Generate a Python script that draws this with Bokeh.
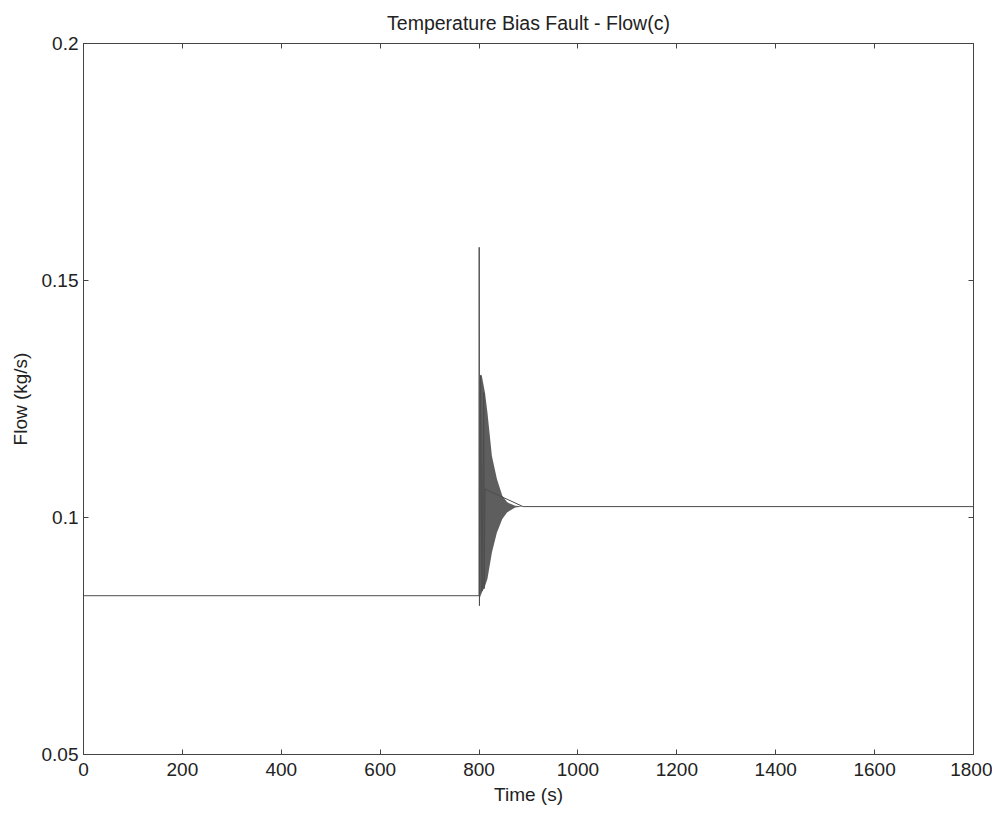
from bokeh.plotting import figure
from bokeh.models import LinearAxis, FixedTicker, Range1d
from bokeh.embed import file_html
from bokeh.resources import INLINE

# Main flow trace
time_s = [0, 800, 800.3, 800.8, 803, 806, 809.5, 810.3, 812, 889, 1800]
flow = [0.0835, 0.0835, 0.157, 0.0814, 0.1300, 0.0845, 0.1263, 0.0850, 0.1060, 0.1023, 0.1023]

# Envelope of the dense oscillation after the fault
env_time = [801.5, 805, 812, 817, 826, 836, 847, 857, 873, 889]
env_upper = [0.1290, 0.1302, 0.1263, 0.1221, 0.1130, 0.1082, 0.1046, 0.1032, 0.1025, 0.1023]
env_lower = [0.0830, 0.0840, 0.0855, 0.0871, 0.0926, 0.0968, 0.0997, 0.1011, 0.1021, 0.1023]

x_ticks = [0, 200, 400, 600, 800, 1000, 1200, 1400, 1600, 1800]
y_ticks = [0.05, 0.1, 0.15, 0.2]
y_tick_labels = ["0.05", "0.1", "0.15", "0.2"]

FONT = "Liberation Sans"
TXT = "#222222"
FRAME = "#444444"
LINE = "#4d4d4d"

p = figure(width=992, height=810, x_range=Range1d(0, 1800), y_range=Range1d(0.05, 0.2),
           output_backend="svg", toolbar_location=None,
           title="Temperature Bias Fault - Flow(c)",
           min_border_left=83, min_border_right=19, min_border_top=42, min_border_bottom=56)

p.title.align = "center"
p.title.text_font = FONT
p.title.text_font_style = "normal"
p.title.text_font_size = "19.5px"
p.title.text_color = TXT
p.title.standoff = 19

p.grid.visible = False
p.outline_line_color = FRAME
p.outline_line_width = 1
p.background_fill_color = "white"
p.border_fill_color = "white"

p.varea(x=env_time, y1=env_lower, y2=env_upper, fill_color=LINE, fill_alpha=0.9)
p.line(time_s, flow, line_color=LINE, line_width=1)


def style_axis(ax, labels=True):
    ax.major_tick_in = 5
    ax.major_tick_out = 0
    ax.minor_tick_in = 0
    ax.minor_tick_out = 0
    ax.axis_line_color = FRAME
    ax.major_tick_line_color = FRAME
    ax.major_label_text_font = FONT
    ax.major_label_text_font_size = "19px" if labels else "0px"
    ax.major_label_text_color = TXT
    ax.axis_label_text_font = FONT
    ax.axis_label_text_font_style = "normal"
    ax.axis_label_text_font_size = "19px"
    ax.axis_label_text_color = TXT


p.xaxis.ticker = FixedTicker(ticks=x_ticks)
p.yaxis.ticker = FixedTicker(ticks=y_ticks)
p.yaxis.major_label_overrides = {t: l for t, l in zip(y_ticks, y_tick_labels)}
p.xaxis.axis_label = "Time (s)"
p.yaxis.axis_label = "Flow (kg/s)"
style_axis(p.xaxis[0])
style_axis(p.yaxis[0])
p.xaxis.major_label_standoff = 8
p.yaxis.major_label_standoff = 5
p.xaxis.axis_label_standoff = 5
p.yaxis.axis_label_standoff = 8

top = LinearAxis(ticker=FixedTicker(ticks=x_ticks))
style_axis(top, labels=False)
p.add_layout(top, "above")
right = LinearAxis(ticker=FixedTicker(ticks=y_ticks))
style_axis(right, labels=False)
p.add_layout(right, "right")

open("out.html", "w").write(file_html(p, INLINE))
